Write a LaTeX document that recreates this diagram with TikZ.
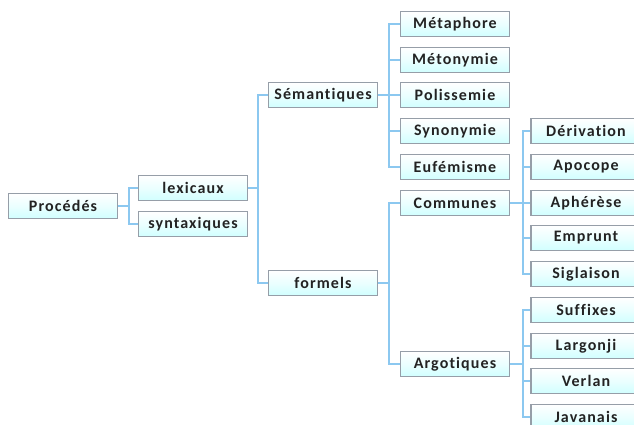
\documentclass[tikz,border=0pt]{standalone}
\usepackage{fontspec}
\setmainfont{Carlito}[LetterSpace=7,Ligatures={NoCommon}]
\usetikzlibrary{positioning}
\definecolor{linkblue}{RGB}{140,200,240}
\definecolor{boxline}{RGB}{150,158,168}
\definecolor{txtgray}{RGB}{35,35,35}
\tikzset{
  mot/.style={draw=boxline,line width=1.1pt,top color=white,bottom color=cyan!18,
    middle color=cyan!8,minimum width=109pt,minimum height=25pt,inner sep=0pt,
    font=\bfseries\fontsize{16}{16}\selectfont,text=txtgray},
  lien/.style={draw=linkblue,line width=1.8pt}
}
\begin{document}
\begin{tikzpicture}[x=1pt,y=-1pt]
\useasboundingbox (0,0) rectangle (634,425);
\clip (0,0) rectangle (634,425);
\fill[white] (0,0) rectangle (634,425);
% racine et premier niveau
\node[mot] (proc) at (63,206) {Procédés};
\node[mot] (lex) at (193,188) {lexicaux};
\node[mot] (syn) at (193,224) {syntaxiques};
\node[mot] (sem) at (323,95) {Sémantiques};
\node[mot] (form) at (323,283) {formels};
\node[mot] (com) at (455,203) {Communes};
\node[mot] (arg) at (455,364) {Argotiques};
% feuilles
\foreach \n/\y/\t in {1/24/Métaphore,2/60/Métonymie,3/95/Polissemie,4/131/Synonymie,5/167/Eufémisme}
  \node[mot] (sem\n) at (455,\y) {\t};
\foreach \n/\y/\t in {1/131/Dérivation,2/167/Apocope,3/203/Aphérèse,4/238/Emprunt,5/274/Siglaison}
  \node[mot,minimum width=110pt] (com\n) at (586,\y) {\t};
\foreach \n/\y/\t in {1/310/Suffixes,2/346/Largonji,3/381/Verlan,4/417/Javanais}
  \node[mot,minimum width=110pt] (arg\n) at (586,\y) {\t};
% liens
\foreach \k in {lex,syn} \draw[lien] (proc.east) -- ++(11,0) |- (\k.west);
\foreach \k in {sem,form} \draw[lien] (lex.east) -- ++(10,0) |- (\k.west);
\foreach \n in {1,...,5} \draw[lien] (sem.east) -- ++(11,0) |- (sem\n.west);
\foreach \k in {com,arg} \draw[lien] (form.east) -- ++(11,0) |- (\k.west);
\foreach \n in {1,...,5} \draw[lien] (com.east) -- ++(13,0) |- (com\n.west);
\foreach \n in {1,...,4} \draw[lien] (arg.east) -- ++(13,0) |- (arg\n.west);
\end{tikzpicture}
\end{document}
